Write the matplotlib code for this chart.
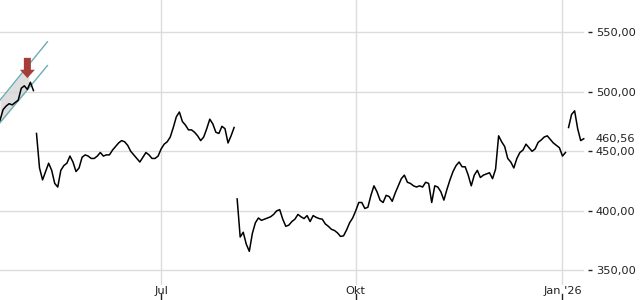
import numpy as np
import matplotlib
matplotlib.use("Agg")
from matplotlib import pyplot as plt
from matplotlib.patches import FancyArrow
from matplotlib.transforms import blended_transform_factory

# ======================
# DATA (one value per trading session)
# ======================
seg_a = [476, 485, 488, 490, 489, 491, 493, 503, 505, 502, 508, 501]
seg_b = [465, 436, 426, 433, 440, 434, 423, 420, 434, 438, 440, 446, 441, 433,
         436, 445, 447, 446, 444, 444, 446, 449, 446, 447, 447, 451, 454, 457,
         459, 458, 455, 450, 447, 444, 441, 445, 449, 447, 444, 444, 446, 452,
         456, 458, 462, 470, 479, 483, 475, 472, 468, 468, 466, 463, 459, 462,
         469, 477, 473, 466, 465, 471, 469, 457, 463, 470]
seg_c = [410, 378, 382, 372, 366, 381, 390, 394, 392, 393, 394, 395, 397, 400,
         401, 393, 387, 388, 391, 393, 397, 395, 393.5, 396, 391, 396, 394.5,
         393.5, 393, 389, 387, 384.5, 383.5, 381.5, 378.5, 379, 384, 390, 394,
         400, 407, 407, 402, 403, 413, 421, 416, 409, 407, 413, 412, 408, 415,
         421, 427, 430, 424, 423, 421, 420, 421, 420, 424, 423, 407, 421, 420,
         416, 409, 418, 426, 433, 438, 441, 437, 437, 430, 421, 430, 434, 428,
         430, 431, 432, 427, 435, 463, 458, 454, 444, 441, 436, 444, 449, 451,
         456, 453, 450, 452, 457.5, 459.5, 462, 463, 460, 457, 455, 453, 446, 449]
seg_d = [470, 481, 484, 469, 459, 460.56]

segments = [seg_a, seg_b, seg_c, seg_d]
last_price = seg_d[-1]

# trend channel (session, price)
chan_x = [0, 15.6]
chan_upper = [493, 542]
chan_lower = [474, 522]
chan_fill_end = 9.5

# signal arrow
arrow_x = 9.0
arrow_top = 528.5
arrow_tip = 511.5

tick_pos = [53, 117, 185]
tick_labels = ["Jul", "Okt", "Jan '26"]
y_ticks = [350, 400, 450, 500, 550]

def fmt(v):
    return f"{v:.2f}".replace(".", ",")

# ======================
# PLOT
# ======================
PX = 72 / 100  # points per pixel at dpi 100

fig = plt.figure(figsize=(6.4, 3.0), dpi=100)
ax = fig.add_axes([0, 0.05, 588 / 640, 0.95])

grid_col = "#dcdcdc"
text_col = "#222222"
grid_end = 583 / 588

for v in y_ticks:
    ax.axhline(v, xmax=grid_end, color=grid_col, lw=1, zorder=0)
for t in tick_pos:
    ax.axvline(t, color=grid_col, lw=1, zorder=0)

# channel
cx = np.array(chan_x)
ax.plot(cx, chan_upper, color="#6aaeb3", lw=1, zorder=2)
ax.plot(cx, chan_lower, color="#6aaeb3", lw=1, zorder=2)
fx = np.linspace(cx[0], chan_fill_end, 20)
ax.fill_between(fx, np.interp(fx, cx, chan_lower), np.interp(fx, cx, chan_upper),
                color="#d6d6d6", alpha=0.8, lw=0, zorder=1)

# price line
start = 0
for seg in segments:
    xs = np.arange(start, start + len(seg))
    ax.plot(xs, seg, color="black", lw=1.1, zorder=3)
    start += len(seg)

# arrow
arr = FancyArrow(arrow_x, arrow_top, 0, arrow_tip - arrow_top, width=2.3,
                 head_width=4.9, head_length=7, length_includes_head=True,
                 color="#a53d38", lw=0, zorder=4)
ax.add_patch(arr)

ax.set_xlim(0, 193.4)
ax.set_ylim(337.7, 577.1)

for s in ax.spines.values():
    s.set_visible(False)

ax.yaxis.tick_right()
ax.set_yticks(y_ticks)
ax.set_yticklabels([fmt(v) for v in y_ticks])
ax.tick_params(axis="y", direction="out", length=4 * PX, width=1,
               color=text_col, pad=4 * PX, labelsize=8.2, labelcolor=text_col)

ax.set_xticks(tick_pos)
ax.set_xticklabels(tick_labels)
ax.tick_params(axis="x", length=0, pad=0.5, labelsize=8.2, labelcolor=text_col)

# small tick marks under the x labels
tx = blended_transform_factory(ax.transData, ax.transAxes)
for t in tick_pos:
    ax.plot([t, t], [-0.033, -0.05], transform=tx, color=text_col, lw=1,
            clip_on=False)

# last price label
ty = blended_transform_factory(ax.transAxes, ax.transData)
ax.text(1 + 8 / 588, last_price, fmt(last_price), transform=ty, fontsize=8.2,
        color=text_col, va="center", ha="left")

fig.savefig("out.png", dpi=100)
